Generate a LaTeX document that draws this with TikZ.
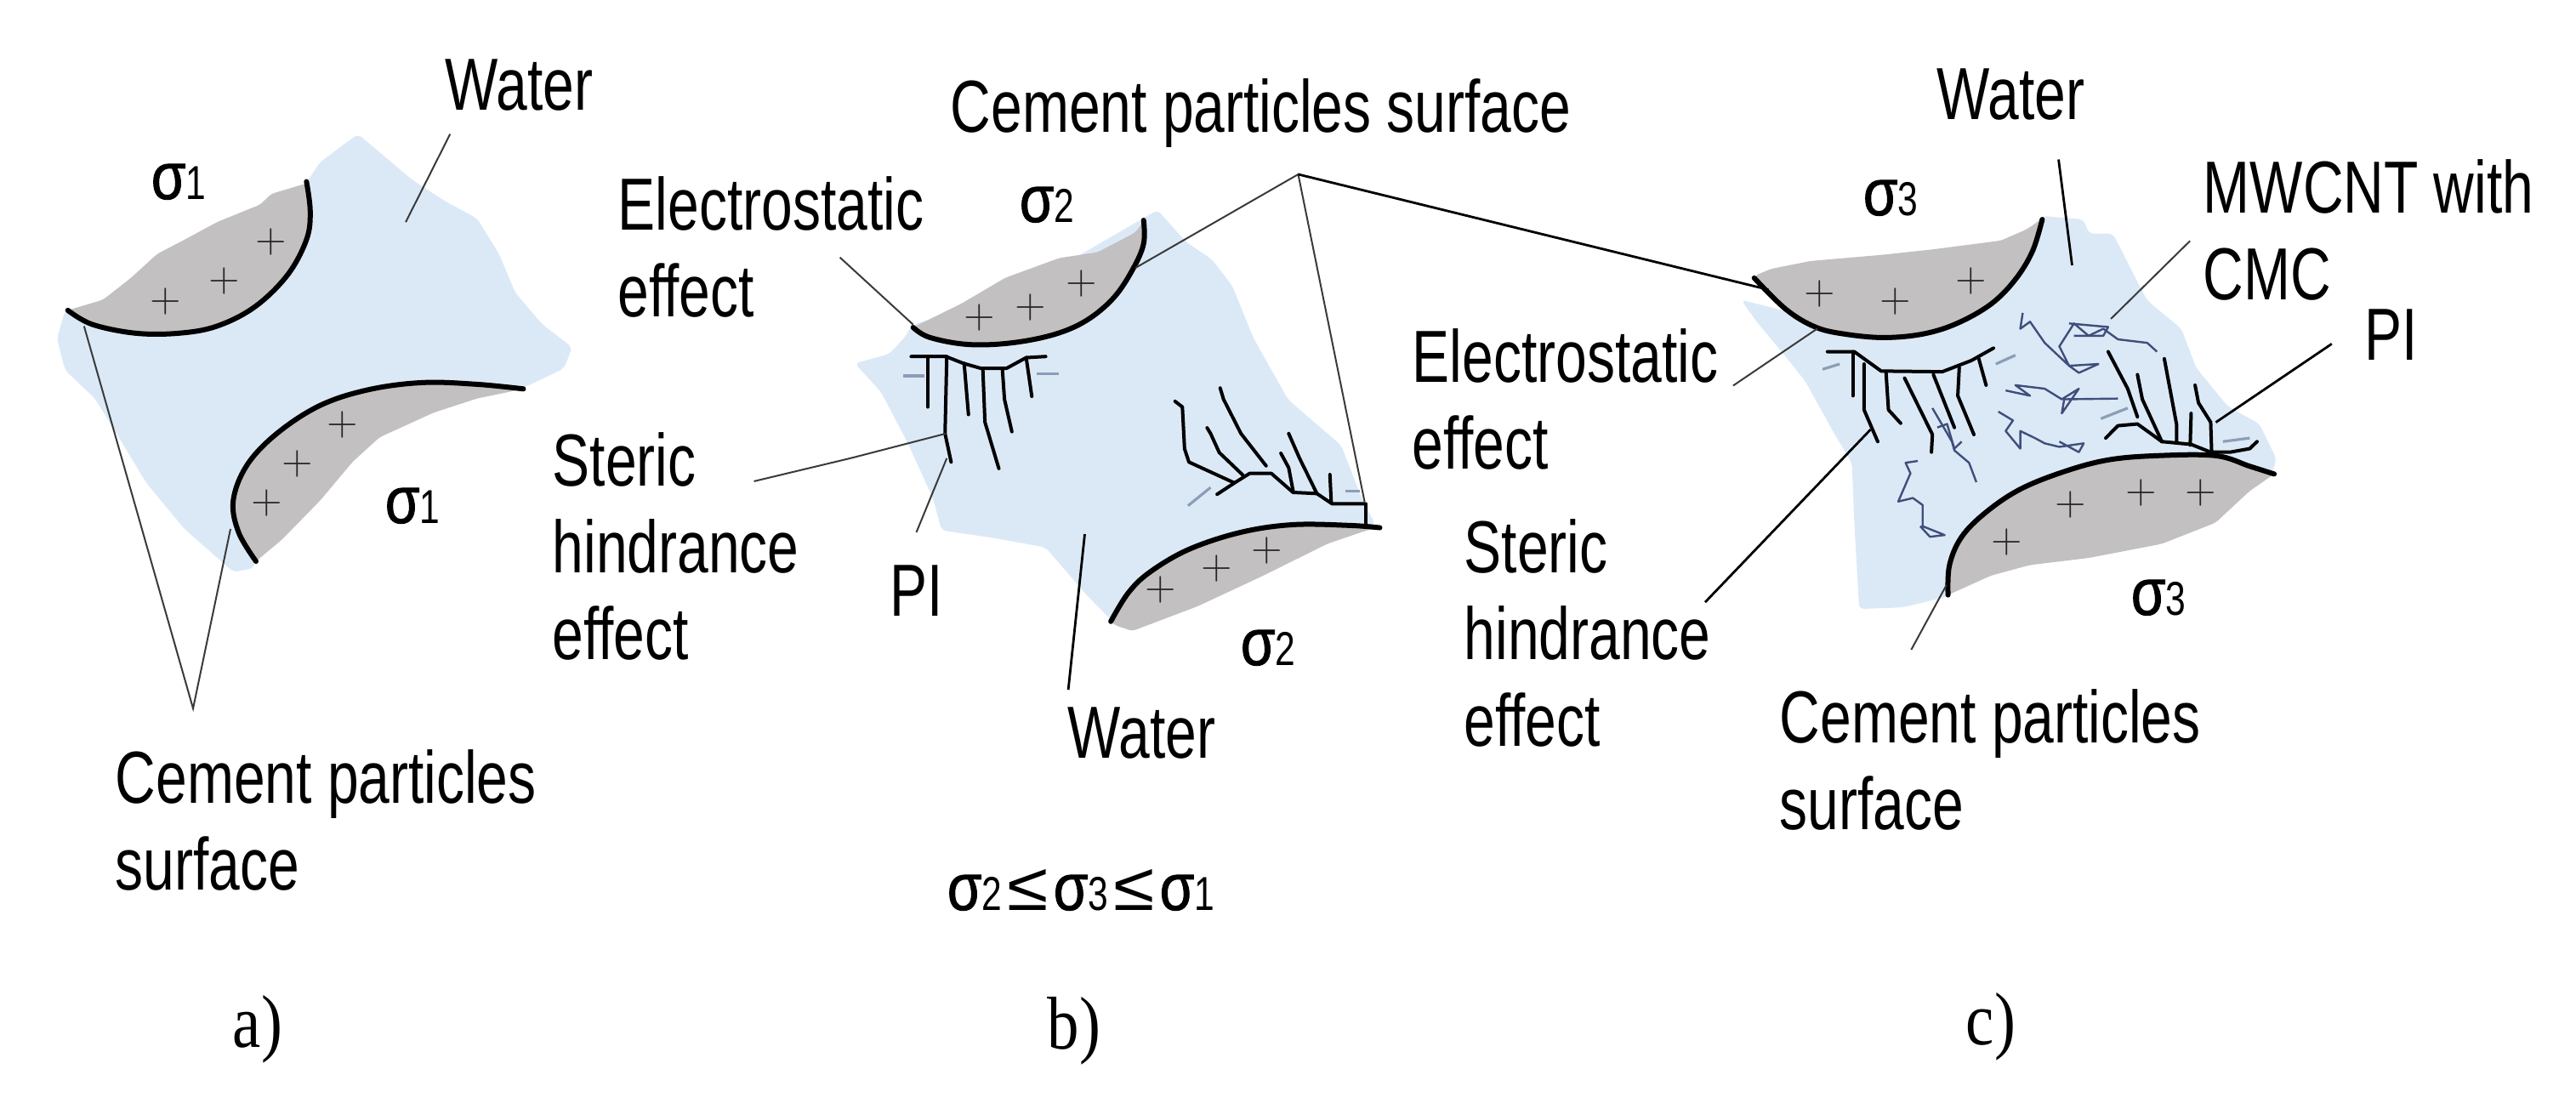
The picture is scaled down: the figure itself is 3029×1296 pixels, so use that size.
\documentclass[tikz,border=0pt]{standalone}
\usepackage{fontspec}
\setmainfont{Liberation Sans}
\newfontfamily\lab[FakeStretch=0.76]{Liberation Sans}
\newfontfamily\sgf[FakeStretch=0.85,FakeBold=1.2]{Liberation Sans}
\newfontfamily\ser[FakeStretch=0.85]{Liberation Serif}
\newfontfamily\wide[FakeStretch=1.1]{Liberation Sans}
\newcommand{\sgm}[1]{{\fontsize{19.5}{19.5}\sgf σ\fontsize{14}{14}\lab #1}}
\newcommand{\leqm}{\hspace{1.5pt}{\fontsize{20}{20}\wide ≤}\hspace{1.5pt}}
\definecolor{waterc}{HTML}{DBE9F7}
\definecolor{grainc}{HTML}{C2C0C0}
\definecolor{minusc}{HTML}{8C9DB8}
\definecolor{tubec}{HTML}{3F4E7A}
\definecolor{leadc}{HTML}{3A3A3A}
\tikzset{
  zone1/.style={shift={(0,0)},x=.15944pt,y=-.10365pt},
  zone2/.style={shift={(1000,300)},x=.12755pt,y=-.11161pt},
  zone3/.style={shift={(2100,200)},x=.14351pt,y=-.10365pt},
  zone4/.style={shift={(0,600)},x=.12755pt,y=-.11096pt},
  zone5/.style={shift={(640,60)},x=.15944pt,y=-.08333pt},
  zone6/.style={shift={(1550,0)},x=.15944pt,y=-.09567pt},
  zone7/.style={shift={(2350,0)},x=.10823pt,y=-.08333pt},
  zone8/.style={shift={(1600,500)},x=.15944pt,y=-.1269pt},
  water/.style={fill=waterc,draw=none,rounded corners=1.5pt},
  grain/.style={fill=grainc,draw=none,rounded corners=1pt},
  surf/.style={draw=black,line width=1.5pt,line cap=round},
  poly/.style={draw=black,line width=1pt,line join=round,line cap=round},
  minus/.style={draw=minusc,line width=.8pt},
  tube/.style={draw=tubec,line width=.6pt,line join=round},
  leader/.style={draw=leadc,line width=.5pt},
  leaderk/.style={draw=black,line width=.7pt},
  txt/.style={anchor=base west,inner sep=0pt,align=left,font=\fontsize{21.7}{25.5}\lab},
  sig/.style={anchor=base west,inner sep=0pt},
  pan/.style={anchor=base west,inner sep=0pt,font=\fontsize{22}{26}\ser},
  chg/.style={inner sep=0pt,font=\fontsize{12}{12}\selectfont,text=black!85}
}
\begin{document}
\begin{tikzpicture}[x=.25pt,y=-.25pt]
\useasboundingbox (0,0) rectangle (3029,1296);

% ---------- panel a
\begin{scope}[zone1]
\fill[water] (105,960)--(120,1050)--(175,1130)--(215,1230)--(270,1370)--(340,1500)--(431,1623)--(470,1610)--(450,1400)--(560,1200)--(700,1100)--(965,1100)--(1040,1045)--(1055,985)--(1000,920)--(950,830)--(920,720)--(880,620)--(820,570)--(760,510)--(660,380)--(590,460)--(560,530)--(400,800)--(120,880)--cycle;
\fill[grain] (125,880)--(190,850)--(240,790)--(290,720)--(340,680)--(400,630)--(480,580)--(500,550)--(565,520)--(572,600)--(565,680)--(530,780)--(470,870)--(400,925)--(330,945)--(250,945)--(170,920)--cycle;
\fill[grain] (965,1103)--(880,1130)--(800,1170)--(700,1240)--(650,1310)--(590,1420)--(520,1530)--(472,1592)--(440,1510)--(430,1420)--(455,1320)--(510,1230)--(590,1150)--(680,1105)--(780,1085)--(880,1090)--cycle;
\draw[surf] plot[smooth,tension=.6] coordinates {(125,880)(170,920)(250,945)(330,945)(400,925)(470,870)(530,780)(565,680)(572,600)(565,515)};
\draw[surf] plot[smooth,tension=.6] coordinates {(965,1103)(880,1090)(780,1085)(680,1105)(590,1150)(510,1230)(455,1320)(430,1420)(440,1510)(472,1592)};
\foreach \p/\n in {{(500,685)}/a1,{(413,797)}/a2,{(305,855)}/a3,{(632,1205)}/a4,{(549,1315)}/a5,{(492,1427)}/a6}
  \node[chg] (\n) at \p {$+$};
\coordinate (awa) at (830,380);
\coordinate (awb) at (748,630);
\coordinate (aca) at (155,925);
\coordinate (acb) at (425,1500);
\end{scope}
\begin{scope}[zone4]
\coordinate (acc) at (445,525);
\end{scope}
\draw[leader] (awa)--(awb);
\draw[leader] (aca)--(acc)--(acb);

\node[txt] (wa) at (523,129) {Water};
\node[sig] (s1a) at (177,234) {\sgm{1}};
\node[sig] (s1b) at (452,615) {\sgm{1}};
\node[txt] (ca) at (135,1046) {Cement particles\\surface};
\node[pan] (pa) at (273,1231) {a)};

% ---------- panel b
\begin{scope}[zone2]
\fill[water] (708,-119)--(774,-34)--(833,11)--(880,81)--(929,219)--(1009,381)--(1131,501)--(1180,645)--(1210,710)--(1020,730)--(800,800)--(640,940)--(600,960)--(540,890)--(450,770)--(330,745)--(210,725)--(190,640)--(130,490)--(70,360)--(10,285)--(90,260)--(130,210)--(140,185)--(392,90)--cycle;
\fill[grain] (1220,718)--(1190,725)--(1100,760)--(950,845)--(800,925)--(650,990)--(610,975)--(600,965)--(640,890)--(690,835)--(780,775)--(900,730)--(1020,710)--(1150,712)--cycle;
\draw[surf] plot[smooth,tension=.6] coordinates {(1220,718)(1150,712)(1020,710)(900,730)(780,775)(690,835)(640,890)(600,965)};
\foreach \p/\n in {{(960,778)}/b4,{(845,825)}/b5,{(715,882)}/b6}
  \node[chg] (\n) at \p {$+$};
% left polymer
\draw[poly] (140,267)--(220,267)--(260,285)--(300,298)--(360,298)--(405,270)--(450,267);
\draw[poly] (178,267)--(178,400);
\draw[poly] (222,267)--(218,470)--(232,545);
\draw[poly] (262,285)--(272,420);
\draw[poly] (305,298)--(310,440)--(342,562);
\draw[poly] (350,298)--(355,380)--(372,465);
\draw[poly] (405,270)--(418,372);
\draw[minus] (122,318)--(170,318);
\draw[minus] (430,313)--(480,313);
% right polymer
\draw[poly] (1185,655)--(1110,655)--(1075,628)--(1020,625)--(970,575)--(920,575)--(885,600)--(845,630);
\draw[poly] (885,600)--(780,545)--(770,510)--(765,400)--(748,385);
\draw[poly] (958,555)--(900,470)--(860,380)--(852,350);
\draw[poly] (905,580)--(850,520)--(830,470)--(822,455);
\draw[poly] (1075,628)--(1035,535)--(1010,470);
\draw[poly] (1020,620)--(1010,560)--(992,522);
\draw[poly] (1108,650)--(1105,578);
\draw[poly] (1188,655)--(1188,715);
\draw[minus] (778,660)--(830,612);
\draw[minus] (1140,622)--(1175,622);
\coordinate (bsa) at (0,535);
\coordinate (bsb) at (220,470);
\coordinate (bpa) at (152,730);
\coordinate (bpb) at (222,535);
\coordinate (bwa) at (540,735);
\coordinate (bwb) at (502,1145);
\coordinate (bcr) at (1185,650);
\end{scope}
\begin{scope}[zone5]
\fill[grain] (680,975)--(770,890)--(850,800)--(950,730)--(1020,710)--(1090,640)--(1105,600)--(1105,680)--(1085,770)--(1050,870)--(1000,950)--(940,1000)--(860,1030)--(780,1035)--(710,1010)--cycle;
\draw[surf] plot[smooth,tension=.6] coordinates {(680,975)(710,1010)(780,1035)(860,1030)(940,1000)(1000,950)(1050,870)(1085,770)(1105,680)(1105,597)};
\foreach \p/\n in {{(990,822)}/b1,{(897,905)}/b2,{(802,942)}/b3}
  \node[chg] (\n) at \p {$+$};
\coordinate (bapex) at (1390,435);
\coordinate (bcl) at (1090,765);
\coordinate (bea) at (545,728);
\coordinate (beb) at (680,965);
\end{scope}
\begin{scope}[zone1]
\coordinate (bsc) at (1390,1365);
\end{scope}

\node[txt] (cb) at (1117,155) {Cement particles surface};
\node[txt] (eb) at (726,372) {Electrostatic\\effect};
\node[sig] (s2a) at (1198,261) {\sgm{2}};
\node[txt] (sb) at (649,775) {Steric\\hindrance\\effect};
\node[txt] (pb) at (1046,724) {PI};
\node[txt] (wb) at (1255,891) {Water};
\node[sig] (s2b) at (1458,782) {\sgm{2}};
\node[sig] (ineq) at (1113,1070) {\sgm{2}\leqm\sgm{3}\leqm\sgm{1}};
\node[pan] (pb2) at (1231,1233) {b)};

% ---------- panel c
\begin{scope}[zone3]
\fill[water] (-92,368)--(-60,430)--(0,530)--(40,600)--(100,750)--(135,830)--(140,1000)--(150,1245)--(240,1240)--(330,1210)--(400,1100)--(600,900)--(995,860)--(1005,820)--(970,720)--(905,670)--(840,560)--(810,450)--(740,370)--(710,290)--(670,180)--(620,180)--(610,140)--(525,130)--(400,300)--(0,400)--cycle;
\fill[grain] (-65,300)--(-30,280)--(50,258)--(200,240)--(300,225)--(440,200)--(490,170)--(525,140)--(505,230)--(470,310)--(420,380)--(350,435)--(280,465)--(200,475)--(120,465)--(60,445)--(0,395)--cycle;
\fill[grain] (332,1205)--(420,1150)--(500,1120)--(620,1100)--(770,1060)--(880,1000)--(950,910)--(1000,862)--(950,840)--(880,810)--(760,810)--(660,822)--(570,855)--(480,905)--(410,970)--(360,1040)--(335,1120)--cycle;
\draw[surf] plot[smooth,tension=.6] coordinates {(-65,306)(0,395)(60,445)(120,465)(200,475)(280,465)(350,435)(420,380)(470,310)(505,230)(525,140)};
\draw[surf] plot[smooth,tension=.6] coordinates {(1000,862)(950,840)(880,810)(760,810)(660,822)(570,855)(480,905)(410,970)(360,1040)(335,1120)(332,1205)};
\foreach \p/\n in {{(70,352)}/c1,{(225,372)}/c2,{(380,315)}/c3,{(850,915)}/c4,{(728,915)}/c5,{(583,950)}/c6,{(452,1055)}/c7}
  \node[chg] (\n) at \p {$+$};
% nanotubes
\draw[tube] (485,405)--(480,450)--(500,430)--(530,490)--(580,555)--(640,550)--(600,575)--(580,555)--(560,500)--(590,435)--(620,470)--(650,450)--(680,480)--(740,490)--(760,515);
\draw[tube] (580,435)--(660,445)--(650,470)--(590,470);
\draw[tube] (450,625)--(500,640)--(470,610)--(530,620)--(565,650)--(600,620)--(580,660)--(565,690)--(570,650)--(680,648);
\draw[tube] (435,685)--(465,710)--(450,740)--(480,790)--(480,740)--(510,760)--(530,775)--(560,785)--(610,775)--(600,800)--(560,770);
\draw[tube] (300,675)--(340,770)--(345,795)--(375,830)--(390,885);
\draw[tube] (310,730)--(330,720)--(345,790)--(360,770);
\draw[tube] (270,825)--(245,830)--(255,860)--(230,940)--(260,930)--(280,950)--(280,1010)--(325,1035)--(295,1040)--(275,1010);
% left polymer
\draw[poly] (85,515)--(140,515)--(195,570)--(320,572)--(380,540)--(425,505);
\draw[poly] (137,515)--(137,640);
\draw[poly] (160,550)--(160,680)--(188,770);
\draw[poly] (205,575)--(210,680)--(235,718);
\draw[poly] (243,590)--(300,750)--(298,800);
\draw[poly] (302,580)--(345,730);
\draw[poly] (355,560)--(352,640)--(385,750);
\draw[poly] (395,535)--(410,610);
\draw[minus] (75,565)--(110,550);
\draw[minus] (430,550)--(470,525);
% right polymer
\draw[poly] (660,515)--(700,620)--(720,700);
\draw[poly] (720,580)--(730,650)--(770,770);
\draw[poly] (775,535)--(800,720)--(800,770);
\draw[poly] (830,690)--(828,780);
\draw[poly] (838,610)--(845,660)--(870,715)--(872,800);
\draw[poly] (770,770)--(830,778)--(870,800)--(910,800)--(950,790)--(965,770);
\draw[poly] (655,760)--(680,725)--(720,720)--(770,770);
\draw[minus] (895,770)--(950,760);
\draw[minus] (645,705)--(700,675);
\end{scope}
\begin{scope}[zone6]
\coordinate (cend) at (830,890);
\coordinate (cwa) at (1365,490);
\coordinate (cwb) at (1390,815);
\coordinate (cea) at (765,1185);
\coordinate (ceb) at (920,1010);
\end{scope}
\begin{scope}[zone7]
\coordinate (cma) at (520,850);
\coordinate (cmb) at (305,1125);
\coordinate (cpa) at (905,1213);
\coordinate (cpb) at (590,1490);
\end{scope}
\begin{scope}[zone8]
\coordinate (csa) at (635,410);
\coordinate (csb) at (940,10);
\coordinate (cca) at (1015,520);
\coordinate (ccb) at (1080,370);
\end{scope}

\draw[leader] (bsc)--(bsa)--(bsb);
\draw[leader] (bpa)--(bpb);
\draw[leaderk] (bwa)--(bwb);
\draw[leader] (bcl)--(bapex)--(bcr);
\draw[leaderk] (bapex)--(cend);
\draw[leader] (bea)--(beb);
\draw[leaderk] (cwa)--(cwb);
\draw[leader] (cea)--(ceb);
\draw[leader] (cma)--(cmb);
\draw[leaderk] (cpa)--(cpb);
\draw[leaderk] (csa)--(csb);
\draw[leader] (cca)--(ccb);

\node[txt] (wc) at (2277,140) {Water};
\node[sig] (s3a) at (2190,253) {\sgm{3}};
\node[txt] (mw) at (2590,352) {MWCNT with\\CMC};
\node[txt] (pc) at (2780,423) {PI};
\node[txt] (ec) at (1660,551) {Electrostatic\\effect};
\node[txt] (sc) at (1721,877) {Steric\\hindrance\\effect};
\node[txt] (cc) at (2092,975) {Cement particles\\surface};
\node[sig] (s3b) at (2505,723) {\sgm{3}};
\node[pan] (pc2) at (2311,1228) {c)};
\end{tikzpicture}
\end{document}
